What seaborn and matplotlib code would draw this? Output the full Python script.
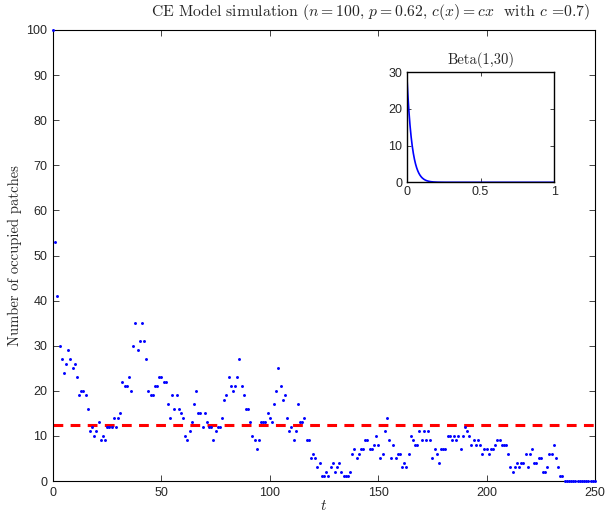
import numpy as np
import pandas as pd
import matplotlib
matplotlib.use("Agg")
import matplotlib.pyplot as plt
import seaborn as sns

# Occupied patches per time step of the CE model run
occupied = [
    100, 53, 41, 30, 27, 24, 26, 29, 27, 25,
    26, 23, 19, 20, 20, 19, 16, 11, 12, 10,
    11, 13, 9, 10, 9, 12, 12, 12, 14, 12,
    14, 15, 22, 21, 21, 23, 20, 30, 35, 29,
    31, 35, 31, 27, 20, 19, 19, 21, 21, 23,
    23, 22, 22, 17, 14, 19, 16, 19, 16, 15,
    14, 10, 9, 11, 13, 17, 20, 15, 15, 12,
    15, 13, 12, 12, 9, 11, 12, 12, 14, 18,
    19, 23, 21, 20, 21, 23, 27, 21, 19, 16,
    16, 13, 10, 9, 7, 9, 13, 13, 13, 15,
    14, 13, 17, 20, 25, 21, 18, 19, 14, 11,
    12, 9, 11, 17, 13, 13, 14, 9, 9, 5,
    6, 5, 3, 4, 1, 1, 2, 1, 3, 4,
    2, 3, 4, 2, 1, 1, 1, 2, 6, 7,
    5, 6, 7, 7, 9, 9, 7, 7, 8, 10,
    8, 5, 6, 11, 14, 9, 5, 8, 5, 6,
    6, 3, 4, 3, 6, 10, 9, 8, 8, 11,
    9, 11, 9, 11, 9, 5, 7, 6, 4, 7,
    7, 7, 10, 10, 9, 10, 9, 10, 7, 10,
    12, 11, 10, 8, 9, 8, 9, 8, 6, 7,
    7, 6, 7, 7, 8, 9, 9, 8, 8, 8,
    6, 3, 2, 3, 4, 3, 4, 4, 6, 3,
    6, 7, 4, 4, 5, 5, 2, 2, 3, 6,
    6, 8, 5, 3, 1, 1, 0, 0, 0, 0,
    0, 0, 0, 0, 0, 0, 0, 0, 0, 0,
    0,
]
time_steps = list(range(len(occupied)))
mean_level = 12.5

# Beta(1,30) distribution shown in the inset
beta_a, beta_b = 1, 30
beta_x = np.linspace(0, 1, 401)
beta_pdf = beta_b * (1 - beta_x) ** (beta_b - 1) * beta_a

x_ticks = [0, 50, 100, 150, 200, 250]
y_ticks = [0, 10, 20, 30, 40, 50, 60, 70, 80, 90, 100]
inset_x_ticks = [0, 0.5, 1]
inset_y_ticks = [0, 10, 20, 30]

sns.set_style("ticks")
plt.rcParams["font.family"] = ["Liberation Sans", "DejaVu Sans"]
plt.rcParams["mathtext.fontset"] = "cm"
plt.rcParams["xtick.direction"] = "in"
plt.rcParams["ytick.direction"] = "in"
plt.rcParams["axes.linewidth"] = 0.8

fig = plt.figure(figsize=(6.06, 5.12), dpi=100)
ax = fig.add_axes([53 / 606, 1 - 481 / 512, 542 / 606, 451 / 512])

df = pd.DataFrame({"t": time_steps, "occupied": occupied})
sns.scatterplot(data=df, x="t", y="occupied", ax=ax, color="#0000ff",
                marker="o", s=4.5, linewidth=0, zorder=3, clip_on=False)
ax.axhline(mean_level, color="#ff0000", lw=2.2, dashes=(3.2, 2.4), zorder=2)

ax.set_xlim(0, 250)
ax.set_ylim(0, 100)
ax.set_xticks(x_ticks)
ax.set_yticks(y_ticks)
ax.tick_params(which="both", top=True, right=True, length=4, width=0.6,
               labelsize=9, pad=4)
for s in ax.spines.values():
    s.set_visible(True)
    s.set_color("black")

fig.text(371 / 606, 1 - 12 / 512,
         r"CE Model simulation ($n=100$, $p=0.62$, $c(x)=cx$  with $c$ =0.7)",
         fontfamily="cmr10", fontsize=11.3, ha="center", va="center")
ax.set_xlabel(r"$t$", fontsize=11, labelpad=0)
ax.set_ylabel("Number of occupied patches", fontfamily="cmr10",
              fontsize=10.5, labelpad=3)

# Inset with the Beta(1,30) density
ins = fig.add_axes([406.7 / 606, 1 - 182.3 / 512, 147.6 / 606, 110 / 512])
sns.lineplot(x=beta_x, y=beta_pdf, ax=ins, color="#0000ff", lw=1.2)
ins.set_xlim(0, 1)
ins.set_ylim(0, 30)
ins.set_xticks(inset_x_ticks)
ins.set_xticklabels(["0", "0.5", "1"])
ins.set_yticks(inset_y_ticks)
ins.tick_params(which="both", top=True, right=True, length=3, width=0.6,
                labelsize=9, pad=3)
for s in ins.spines.values():
    s.set_visible(True)
    s.set_color("black")
    s.set_linewidth(1.0)
ins.set_title("Beta(1,30)", fontfamily="cmr10", fontsize=10.5, pad=6)

fig.savefig("out.png", dpi=100)
